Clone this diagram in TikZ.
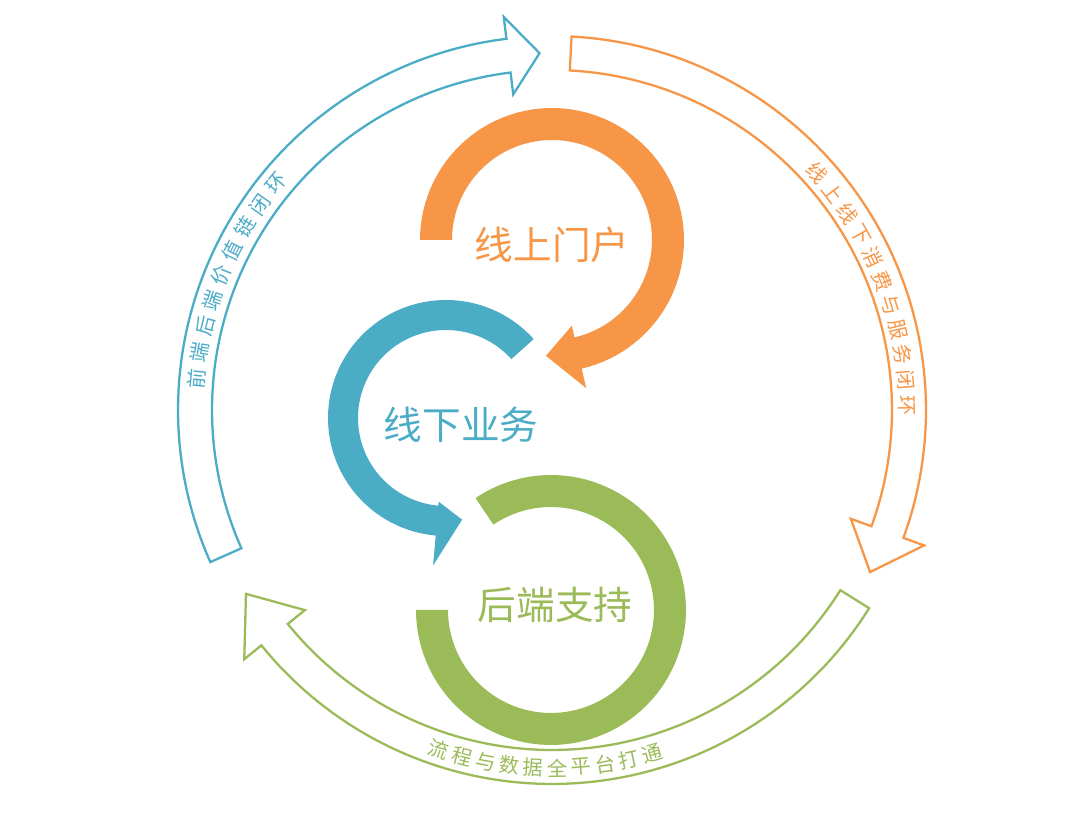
\documentclass[tikz,border=0pt]{standalone}
\usepackage{fontspec}
\newfontfamily\cjk{Noto Sans CJK SC}
\definecolor{cblue}{HTML}{4BACC6}
\definecolor{corange}{HTML}{F79646}
\definecolor{cgreen}{HTML}{9BBB59}
% \arcarr{cx}{cy}{rin}{rout}{a1}{a2}{hin}{hout}{tipangle}
\newcommand{\arcarr}[9]{%
  plot[domain=#5:#6,samples=80] ({#1+#4*cos(\x)},{#2+#4*sin(\x)})
  -- ({#1+#8*cos(#6)},{#2+#8*sin(#6)})
  -- ({#1+(#3+#4)/2*cos(#9)},{#2+(#3+#4)/2*sin(#9)})
  -- ({#1+#7*cos(#6)},{#2+#7*sin(#6)})
  -- plot[domain=#6:#5,samples=80] ({#1+#3*cos(\x)},{#2+#3*sin(\x)}) -- cycle}
\tikzset{
  outerarr/.style={draw=#1,line width=1.3pt,fill=white,line join=miter},
  innerarr/.style={fill=#1,draw=none},
  biglabel/.style={font=\cjk\fontsize{22}{26}\selectfont,text=#1},
  ringlabel/.style={font=\cjk\fontsize{11.5}{13}\selectfont,text=#1,inner sep=0pt}
}
\begin{document}
\begin{tikzpicture}[x=0.02cm,y=0.02cm]
\useasboundingbox (0,0) rectangle (1080,834);
\fill[white] (0,0) rectangle (1080,834);
% outer ring arrows
\draw[outerarr=cblue] \arcarr{552}{424}{340}{374}{204}{97}{318}{396}{92};
\draw[outerarr=corange] \arcarr{552}{424}{340}{374}{87}{-20}{318}{396}{-27};
\draw[outerarr=cgreen] \arcarr{552}{424}{340}{374}{-32}{-141}{318}{396}{-149};
% inner arrows
\fill[innerarr=corange] \arcarr{552}{594}{100}{132}{180}{-77}{88}{152}{-93};
\fill[innerarr=cblue] \arcarr{446}{416}{88}{118}{42}{265}{84}{148}{279};
\fill[innerarr=cgreen] plot[domain=124:-180,samples=100] ({551+135*cos(\x)},{224+135*sin(\x)})
  -- plot[domain=-180:124,samples=100] ({551+103*cos(\x)},{224+103*sin(\x)}) -- cycle;
% inner labels
\node[biglabel=corange] (l1) at (552,589) {线上门户};
\node[biglabel=cblue] (l2) at (461,409) {线下业务};
\node[biglabel=cgreen] (l3) at (555,229) {后端支持};
% ring labels
\foreach \ch [count=\i from 0] in {线,上,线,下,消,费,与,服,务,闭,环}{
  \pgfmathsetmacro\a{41.8-\i*4.1}
  \node[ringlabel=corange,rotate=\a-90] (o\i) at ({552+355*cos(\a)},{424+355*sin(\a)}) {\ch};
}
\foreach \ch [count=\i from 0] in {前,端,后,端,价,值,链,闭,环}{
  \pgfmathsetmacro\a{175-\i*4.3}
  \node[ringlabel=cblue,rotate=\a-90] (b\i) at ({552+357*cos(\a)},{424+357*sin(\a)}) {\ch};
}
\foreach \ch [count=\i from 0] in {流,程,与,数,据,全,平,台,打,通}{
  \pgfmathsetmacro\a{-108.4+\i*3.85}
  \node[ringlabel=cgreen,rotate=\a+90] (g\i) at ({552+358*cos(\a)},{424+358*sin(\a)}) {\ch};
}
\end{tikzpicture}
\end{document}
